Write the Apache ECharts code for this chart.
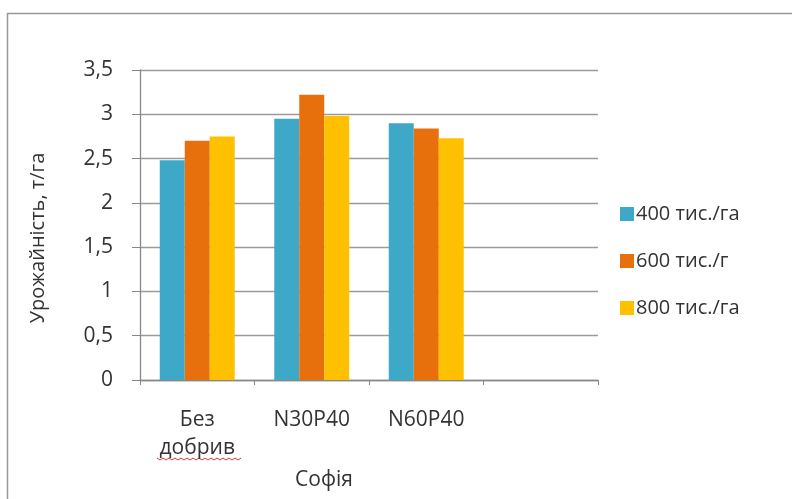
<!DOCTYPE html>
<html>
<head>
<meta charset="utf-8">
<script src="https://cdn.jsdelivr.net/npm/echarts@6/dist/echarts.min.js"></script>
<style>
  html, body { margin: 0; padding: 0; background: #fff; }
  #chart { width: 792px; height: 499px; }
</style>
</head>
<body>
<div id="chart"></div>
<script>
// Yield by fertilizer treatment and sowing density, variety "Софія"
const categories = ['Без\nдобрив', 'N30P40', 'N60P40', ''];
const seriesNames = ['400 тис./га', '600 тис./г', '800 тис./га'];
const density400 = [2.48, 2.95, 2.90];
const density600 = [2.70, 3.22, 2.84];
const density800 = [2.75, 2.98, 2.73];
const yTicks = [0, 0.5, 1, 1.5, 2, 2.5, 3, 3.5];

const colors = ['#3DA8C8', '#E8700C', '#FFC000'];
const font = '"Open Sans", "Noto Sans", sans-serif';
const textColor = '#333';

const chart = echarts.init(document.getElementById('chart'));

// small red wavy underline under the second line of the first category label
const squiggle = [];
for (let i = 0; i <= 28; i++) {
  squiggle.push([157 + i * 3, 458 + (i % 2 === 0 ? 0 : 2)]);
}

chart.setOption({
  animation: false,
  color: colors,
  textStyle: { fontFamily: font },
  grid: { left: 140, top: 70, width: 458, height: 310, containLabel: false },
  legend: {
    orient: 'vertical',
    left: 615,
    top: 199,
    itemWidth: 14,
    itemHeight: 14,
    itemGap: 27,
    icon: 'rect',
    data: seriesNames,
    textStyle: { fontSize: 20, color: textColor, fontFamily: font, padding: [0, 0, 0, -3] }
  },
  xAxis: {
    type: 'category',
    data: categories,
    axisLine: { lineStyle: { color: '#888', width: 1.3 } },
    axisTick: { show: true, length: 5, lineStyle: { color: '#888' } },
    axisLabel: { fontSize: 21, color: textColor, lineHeight: 28, margin: 26, interval: 0, fontFamily: font }
  },
  yAxis: {
    type: 'value',
    min: 0,
    max: 3.5,
    interval: 0.5,
    axisLine: { show: true, lineStyle: { color: '#888', width: 1.3 } },
    axisTick: { show: true, length: 8, inside: false, lineStyle: { color: '#888' } },
    splitLine: { lineStyle: { color: '#9a9a9a', width: 1.3 } },
    axisLabel: {
      fontSize: 21, color: textColor, margin: 27, fontFamily: font,
      formatter: v => yTicks.includes(v) ? String(v).replace('.', ',') : ''
    }
  },
  series: [
    { name: seriesNames[0], type: 'bar', data: density400, barGap: '0%', barCategoryGap: '34.5%' },
    { name: seriesNames[1], type: 'bar', data: density600, barGap: '0%', barCategoryGap: '34.5%' },
    { name: seriesNames[2], type: 'bar', data: density800, barGap: '0%', barCategoryGap: '34.5%' }
  ],
  graphic: [
    {
      type: 'rect',
      shape: { x: 7.5, y: 13.5, width: 820, height: 520 },
      style: { fill: 'none', stroke: '#999', lineWidth: 1.5 },
      silent: true
    },
    {
      type: 'text',
      x: 38, y: 238,
      rotation: Math.PI / 2,
      style: {
        text: 'Урожайність, т/га', fontSize: 20, fill: textColor, fontFamily: font,
        align: 'center', verticalAlign: 'middle'
      }
    },
    {
      type: 'text',
      x: 324, y: 480,
      style: {
        text: 'Софія', fontSize: 21, fill: textColor, fontFamily: font,
        align: 'center', verticalAlign: 'middle'
      }
    },
    {
      type: 'polyline',
      shape: { points: squiggle },
      style: { stroke: '#d9303a', lineWidth: 1, fill: 'none' },
      silent: true
    }
  ]
});
</script>
</body>
</html>
